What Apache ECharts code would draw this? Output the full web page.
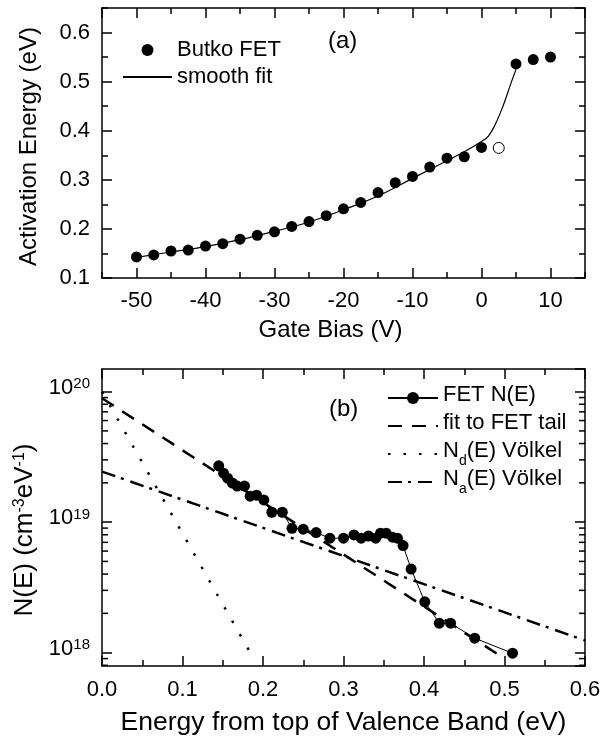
<!DOCTYPE html>
<html><head><meta charset="utf-8">
<script src="https://cdn.jsdelivr.net/npm/echarts@6/dist/echarts.min.js"></script>
<style>html,body{margin:0;padding:0;background:#fff}#c{width:610px;height:738px}</style>
</head><body><div id="c"></div>
<script>
// ---- Panel (a) data ----
const gateBias = [-50,-47.5,-45,-42.5,-40,-37.5,-35,-32.5,-30,-27.5,-25,-22.5,-20,-17.5,-15,-12.5,-10,-7.5,-5,-2.5,0,5,7.5,10];
const activationEnergy = [0.143,0.147,0.155,0.157,0.165,0.170,0.179,0.187,0.194,0.205,0.215,0.227,0.241,0.254,0.274,0.294,0.307,0.326,0.344,0.347,0.366,0.536,0.545,0.550];
const openBias = [2.5];
const openEnergy = [0.365];
const fitBias = [-50,-45,-40,-35,-30,-25,-20,-15,-10,-5,-2.5,0,1,2,3,3.5,4.2,5];
const fitEnergy = [0.142,0.153,0.164,0.178,0.195,0.214,0.239,0.267,0.303,0.339,0.357,0.378,0.389,0.413,0.446,0.465,0.494,0.525];

// ---- Panel (b) data ----
const energyFET = [0.145,0.151,0.156,0.162,0.168,0.177,0.184,0.192,0.201,0.211,0.224,0.236,0.250,0.266,0.283,0.300,0.313,0.322,0.331,0.340,0.346,0.353,0.361,0.367,0.374,0.384,0.401,0.419,0.433,0.463,0.510];
const densityFET = [2.70e19,2.37e19,2.17e19,1.99e19,1.89e19,1.89e19,1.58e19,1.61e19,1.48e19,1.19e19,1.19e19,8.97e18,8.83e18,8.32e18,7.53e18,7.53e18,7.98e18,7.53e18,7.83e18,7.53e18,8.22e18,8.22e18,7.66e18,7.53e18,6.61e18,4.37e18,2.45e18,1.68e18,1.68e18,1.29e18,0.99e18];
const tailE = [0, 0.5];
const tailN = [8.9e19, 9.0e17];
const ndE = [0, 0.187];
const ndN = [1.0e20, 9.3e17];
const naE = [0, 0.6];
const naN = [2.44e19, 1.24e18];

// ---- Axis ranges / labels ----
const xMinA = -55, xMaxA = 15, yMinA = 0.1, yMaxA = 0.65;
const xMinB = 0, xMaxB = 0.6, yMinB = 7.9e17, yMaxB = 1.49e20;
const minorMultipliers = [2,3,4,5,6,7,8,9];
const decades = [17,18,19,20];

const FONT = "'Liberation Sans', Arial, sans-serif";
const BLACK = '#000';
const MAJOR = 10, MINOR = 6;
const zip = (a, b) => a.map((v, i) => [v, b[i]]);

const axisLine = {show: true, onZero: false, lineStyle: {color: BLACK, width: 1.5}};
const noLine = {show: false, onZero: false};

function linAxis(grid, pos, min, max, extra) {
  return Object.assign({
    type: 'value', gridIndex: grid, position: pos, min: min, max: max,
    axisLine: axisLine,
    axisTick: {show: true, inside: true, length: MAJOR, lineStyle: {color: BLACK, width: 1.5}},
    axisLabel: {show: false},
    splitLine: {show: false}
  }, extra || {});
}
function minorAxis(grid, pos, min, max, interval) {
  return {
    type: 'value', gridIndex: grid, position: pos, min: min, max: max, interval: interval,
    axisLine: noLine,
    axisTick: {show: true, inside: true, length: MINOR, lineStyle: {color: BLACK, width: 1.5}},
    axisLabel: {show: false}, splitLine: {show: false}
  };
}
const tickLabel = {show: true, color: BLACK, fontSize: 22, fontFamily: FONT, margin: 12};

const chart = echarts.init(document.getElementById('c'), null, {renderer: 'canvas'});
const option = {
  animation: false,
  backgroundColor: '#fff',
  textStyle: {fontFamily: FONT, color: BLACK},
  title: [
    {text: '(a)', left: 328, top: 29, padding: 0, textStyle: {fontSize: 24, fontWeight: 'normal', fontFamily: FONT, color: BLACK}},
    {text: '(b)', left: 329, top: 397, padding: 0, textStyle: {fontSize: 24, fontWeight: 'normal', fontFamily: FONT, color: BLACK}}
  ],
  grid: [
    {left: 102, top: 8, width: 483, height: 270},
    {left: 102, top: 369, width: 483, height: 297}
  ],
  xAxis: [
    linAxis(0, 'bottom', xMinA, xMaxA, {
      splitNumber: 7,
      axisLabel: Object.assign({}, tickLabel, {showMinLabel: false, showMaxLabel: false}),
      name: 'Gate Bias (V)', nameLocation: 'middle', nameGap: 40,
      nameTextStyle: {fontSize: 24, fontFamily: FONT, color: BLACK, padding: [0, 26, 0, 0]}
    }),
    linAxis(0, 'top', xMinA, xMaxA, {splitNumber: 7}),
    minorAxis(0, 'bottom', xMinA, xMaxA, 5),
    minorAxis(0, 'top', xMinA, xMaxA, 5),
    linAxis(1, 'bottom', xMinB, xMaxB, {
      interval: 0.1,
      minorTick: {show: true, splitNumber: 2, length: MINOR, lineStyle: {color: BLACK, width: 1.5}},
      axisLabel: Object.assign({}, tickLabel, {margin: 13, formatter: v => v.toFixed(1)}),
      name: 'Energy from top of Valence Band (eV)', nameLocation: 'middle', nameGap: 43,
      nameTextStyle: {fontSize: 26.5, fontFamily: FONT, color: BLACK}
    }),
    linAxis(1, 'top', xMinB, xMaxB, {
      interval: 0.1,
      minorTick: {show: true, splitNumber: 2, length: MINOR, lineStyle: {color: BLACK, width: 1.5}}
    })
  ],
  yAxis: [
    linAxis(0, 'left', yMinA, yMaxA, {
      interval: 0.1,
      axisLabel: Object.assign({}, tickLabel, {showMaxLabel: false, formatter: v => v.toFixed(1)}),
      name: 'Activation Energy (eV)', nameLocation: 'middle', nameGap: 61, nameRotate: 90,
      nameTextStyle: {fontSize: 24, fontFamily: FONT, color: BLACK, padding: [0, 7, 0, 0]}
    }),
    linAxis(0, 'right', yMinA, yMaxA, {interval: 0.1}),
    minorAxis(0, 'left', yMinA, yMaxA, 0.05),
    minorAxis(0, 'right', yMinA, yMaxA, 0.05),
    {
      type: 'log', logBase: 10, gridIndex: 1, position: 'left', min: yMinB, max: yMaxB,
      axisLine: axisLine,
      axisTick: {show: true, inside: true, length: MAJOR, lineStyle: {color: BLACK, width: 1.5}},
      splitLine: {show: false},
      axisLabel: {
        show: true, margin: 12, showMinLabel: false, showMaxLabel: false, color: BLACK,
        formatter: v => '{b|10}{s|' + Math.round(Math.log10(v)) + '}',
        rich: {
          b: {fontSize: 22, lineHeight: 30, verticalAlign: 'top', fontFamily: FONT, color: BLACK},
          s: {fontSize: 15, lineHeight: 15, verticalAlign: 'top', fontFamily: FONT, color: BLACK}
        }
      },
      name: '{n|N(E) (cm}{s|-3}{n|eV}{s|-1}{n|)}', nameLocation: 'middle', nameGap: 54, nameRotate: 90,
      nameTextStyle: {
        fontSize: 26, fontFamily: FONT, color: BLACK,
        padding: [0, 25, 0, 0],
        rich: {
          n: {fontSize: 26, lineHeight: 30, verticalAlign: 'top', fontFamily: FONT, color: BLACK},
          s: {fontSize: 16, lineHeight: 16, verticalAlign: 'top', fontFamily: FONT, color: BLACK}
        }
      }
    },
    {
      type: 'log', logBase: 10, gridIndex: 1, position: 'right', min: yMinB, max: yMaxB,
      axisLine: axisLine,
      axisTick: {show: true, inside: true, length: MAJOR, lineStyle: {color: BLACK, width: 1.5}},
      splitLine: {show: false}, axisLabel: {show: false}
    }
  ],
  legend: [
    {
      data: ['Butko FET', 'smooth fit'], orient: 'vertical', left: 122, top: 37,
      itemWidth: 49, itemHeight: 12, itemGap: 1, padding: 0, selectedMode: false,
      textStyle: {fontSize: 22, lineHeight: 26, fontFamily: FONT, color: BLACK}
    },
    {
      data: ['FET N(E)', 'fit to FET tail', 'Nd(E) Völkel', 'Na(E) Völkel'], orient: 'vertical', left: 387, top: 384,
      itemWidth: 50, itemHeight: 15, itemGap: 0, padding: 0, selectedMode: false,
      formatter: function (name) {
        if (name === 'Nd(E) Völkel') return '{n|N}{sub|d}{n|(E) Völkel}';
        if (name === 'Na(E) Völkel') return '{n|N}{sub|a}{n|(E) Völkel}';
        return '{n|' + name + '}{sub| }';
      },
      textStyle: {
        fontSize: 22, fontFamily: FONT, color: BLACK,
        rich: {
          n: {fontSize: 22, lineHeight: 28, verticalAlign: 'top', fontFamily: FONT, color: BLACK},
          sub: {fontSize: 14, lineHeight: 14, padding: [14, 0, 0, 0], verticalAlign: 'top', fontFamily: FONT, color: BLACK}
        }
      }
    }
  ],
  series: [
    {
      name: 'smooth fit', type: 'line', xAxisIndex: 0, yAxisIndex: 0,
      data: zip(fitBias, fitEnergy), smooth: 0.4, symbol: 'none',
      lineStyle: {color: BLACK, width: 1.2}, itemStyle: {color: BLACK, opacity: 0}, z: 2
    },
    {
      name: 'Butko FET', type: 'scatter', xAxisIndex: 0, yAxisIndex: 0,
      data: zip(gateBias, activationEnergy), symbol: 'circle', symbolSize: 11,
      itemStyle: {color: BLACK, opacity: 1}, z: 3
    },
    {
      name: 'open point', type: 'scatter', xAxisIndex: 0, yAxisIndex: 0,
      data: zip(openBias, openEnergy), symbol: 'circle', symbolSize: 11,
      itemStyle: {color: '#fff', borderColor: BLACK, borderWidth: 1, opacity: 1}, z: 3
    },
    {
      name: 'fit to FET tail', type: 'line', xAxisIndex: 4, yAxisIndex: 4,
      data: zip(tailE, tailN), symbol: 'none',
      lineStyle: {color: BLACK, width: 2.5, type: [14, 10]}, itemStyle: {color: BLACK, opacity: 0}, z: 2
    },
    {
      name: 'Nd(E) Völkel', type: 'line', xAxisIndex: 4, yAxisIndex: 4,
      data: zip(ndE, ndN), symbol: 'none',
      lineStyle: {color: BLACK, width: 2.5, type: [2.5, 13]}, itemStyle: {color: BLACK, opacity: 0}, z: 2
    },
    {
      name: 'Na(E) Völkel', type: 'line', xAxisIndex: 4, yAxisIndex: 4,
      data: zip(naE, naN), symbol: 'none',
      lineStyle: {color: BLACK, width: 2.5, type: [14, 6, 3, 7]}, itemStyle: {color: BLACK, opacity: 0}, z: 2
    },
    {
      name: 'FET N(E)', type: 'line', xAxisIndex: 4, yAxisIndex: 4,
      data: zip(energyFET, densityFET), symbol: 'circle', symbolSize: 11, showSymbol: true,
      lineStyle: {color: BLACK, width: 1}, itemStyle: {color: BLACK, opacity: 1}, z: 4
    }
  ]
};
chart.setOption(option);

// minor ticks (2..9 x 10^n) on the log axes, placed through the axis scale
const minorVals = [];
decades.forEach(n => minorMultipliers.forEach(k => {
  const v = k * Math.pow(10, n);
  if (v > yMinB && v < yMaxB) minorVals.push(v);
}));
const xl = chart.convertToPixel({xAxisIndex: 4}, xMinB);
const xr = chart.convertToPixel({xAxisIndex: 4}, xMaxB);
const els = [];
minorVals.forEach(v => {
  const y = chart.convertToPixel({yAxisIndex: 4}, v);
  els.push({type: 'line', silent: true, shape: {x1: xl, y1: y, x2: xl + MINOR, y2: y}, style: {stroke: BLACK, lineWidth: 1.5}});
  els.push({type: 'line', silent: true, shape: {x1: xr - MINOR, y1: y, x2: xr, y2: y}, style: {stroke: BLACK, lineWidth: 1.5}});
});
chart.setOption({graphic: els});
</script>
</body></html>
